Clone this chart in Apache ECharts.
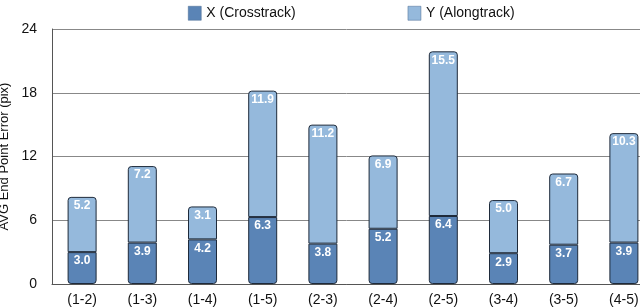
<!DOCTYPE html>
<html>
<head>
<meta charset="utf-8">
<script src="https://cdn.jsdelivr.net/npm/echarts@6/dist/echarts.min.js"></script>
<style>
html,body{margin:0;padding:0;background:#fff;}
#c{width:640px;height:307px;}
</style>
</head>
<body>
<div id="c"></div>
<script>
var categories = ['(1-2)','(1-3)','(1-4)','(1-5)','(2-3)','(2-4)','(2-5)','(3-4)','(3-5)','(4-5)'];
var crosstrack = [3.0, 3.9, 4.2, 6.3, 3.8, 5.2, 6.4, 2.9, 3.7, 3.9];
var alongtrack = [5.2, 7.2, 3.1, 11.9, 11.2, 6.9, 15.5, 5.0, 6.7, 10.3];
var yTicks = [0, 6, 12, 18, 24];

var FONT = '"Liberation Sans", Arial, Helvetica, sans-serif';
var chart = echarts.init(document.getElementById('c'), null, {renderer:'canvas'});
var labelStyle = {
  show: true, position: 'insideTop', distance: 3,
  color: '#fff', fontSize: 12, fontWeight: 'bold', fontFamily: FONT,
  formatter: function(p){ return p.value.toFixed(1); }
};
chart.setOption({
  animation: false,
  backgroundColor: '#fff',
  textStyle: {fontFamily: FONT},
  legend: {
    left: 183, top: 1, itemWidth: 13, itemHeight: 14, itemGap: 112,
    icon: 'rect',
    itemStyle: {borderWidth: 0.5, borderColor: '#4a6a90'},
    textStyle: {fontSize: 14, color: '#111', fontFamily: FONT},
    data: ['X (Crosstrack)', 'Y (Alongtrack)']
  },
  grid: {left: 52, top: 29, bottom: 23, width: 602, containLabel: false, outerBoundsMode: 'none'},
  xAxis: {
    type: 'category', data: categories,
    axisLine: {lineStyle: {color: '#555', width: 1}},
    axisTick: {show: false},
    axisLabel: {color: '#111', fontSize: 14, margin: 9, fontFamily: FONT, interval: 0}
  },
  yAxis: {
    type: 'value', min: yTicks[0], max: yTicks[yTicks.length-1], interval: 6,
    name: 'AVG End Point Error (pix)', nameLocation: 'middle', nameGap: 30,
    nameTextStyle: {fontSize: 13, color: '#111', fontFamily: FONT},
    axisLine: {show: true, lineStyle: {color: '#555', width: 1}},
    axisTick: {show: false},
    axisLabel: {color: '#111', fontSize: 14, margin: 15, fontFamily: FONT},
    splitLine: {lineStyle: {color: '#888', width: 1}}
  },
  series: [
    {
      name: 'X (Crosstrack)', type: 'bar', stack: 'a', data: crosstrack,
      barWidth: 29,
      itemStyle: {color: '#5a84b6', borderColor: '#1e2a3a', borderWidth: 1, borderRadius: [0,0,3,3]},
      label: labelStyle
    },
    {
      name: 'Y (Alongtrack)', type: 'bar', stack: 'a', data: alongtrack,
      barWidth: 29,
      itemStyle: {color: '#95b9dc', borderColor: '#1e2a3a', borderWidth: 1, borderRadius: [3,3,0,0]},
      label: labelStyle
    }
  ]
});
</script>
</body>
</html>
